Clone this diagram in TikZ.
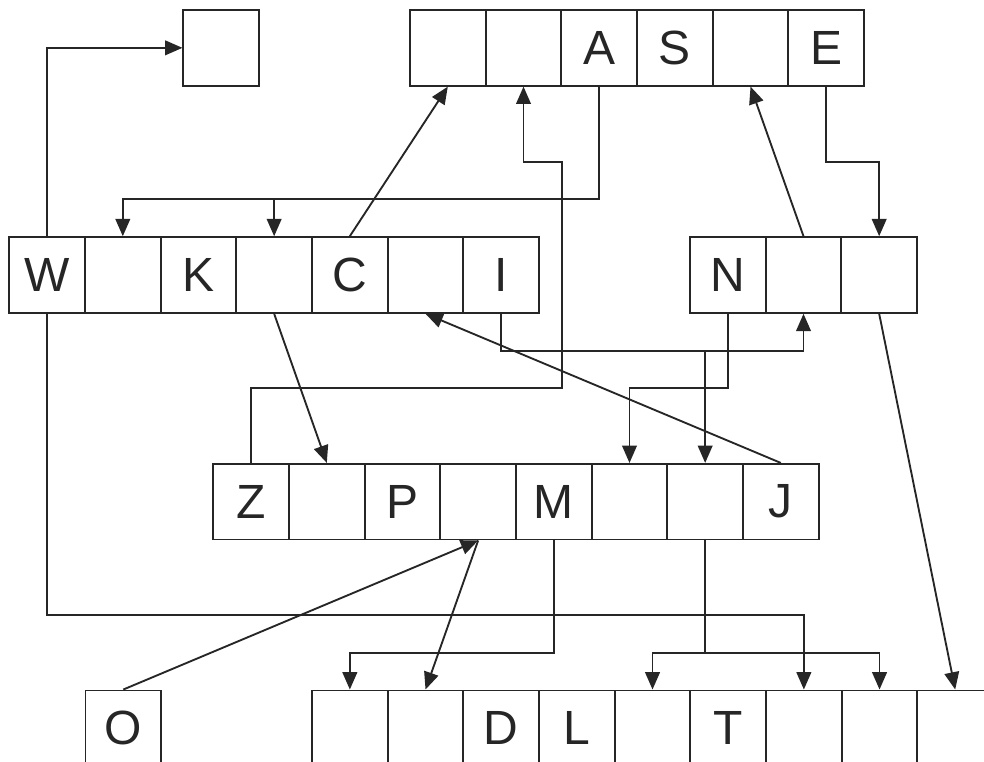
\documentclass[tikz,border=0pt]{standalone}
\usepackage{fontspec}
\setmainfont{Liberation Sans}
\usetikzlibrary{arrows.meta}
\definecolor{ink}{RGB}{38,38,38}
\begin{document}
\begin{tikzpicture}[x=0.75pt,y=-0.75pt,
  line width=1.4pt, draw=ink, text=ink,
  cell/.style={draw, rectangle, inner sep=0pt, minimum width=56.75pt, minimum height=56.75pt,
    font=\fontsize{36}{40}\selectfont},
  arr/.style={-{Triangle[length=13pt,width=11pt]}}]
\useasboundingbox (0,0) rectangle (984,762);
\clip (0,0) rectangle (984,762);
% nodes
\node[cell] (tb) at (221.2,47.85) {};
\foreach \t [count=\i] in {{},{},A,S,{},E}
  \node[cell] (a\i) at ({410+75.67*(\i-0.5)},47.85) {\t};
\foreach \t [count=\i] in {W,{},K,{},C,{},I}
  \node[cell] (b\i) at ({9.3+75.67*(\i-0.5)},275) {\t};
\foreach \t [count=\i] in {N,{},{}}
  \node[cell] (c\i) at ({690+75.67*(\i-0.5)},275) {\t};
\foreach \t [count=\i] in {Z,{},P,{},M,{},{},J}
  \node[cell] (d\i) at ({213.3+75.67*(\i-0.5)},501.7) {\t};
\node[cell] (o) at (123.3,728.3) {O};
\foreach \t [count=\i] in {{},{},D,L,{},T,{},{},{}}
  \node[cell] (e\i) at ({312+75.67*(\i-0.5)},728.3) {\t};
% helper levels
\coordinate (yA) at (0,199.3);
\coordinate (yB) at (0,161.7);
\coordinate (yC) at (0,350.7);
\coordinate (yD) at (0,388.3);
\coordinate (yE) at (0,615);
\coordinate (yF) at (0,652.7);
\coordinate (xZ) at (561.7,0);
% connectors
\draw[arr] (b1.north) |- (tb.west);
\draw[arr] (a3.south) |- (b2.north |- yA) -- (b2.north);
\draw[arr] (b4.north |- yA) -- (b4.north);
\draw[arr] (b5.north) -- (a1.south);
\draw[arr] (d1.north) |- (xZ |- yD) |- (a2.south |- yB) -- (a2.south);
\draw[arr] (c2.north) -- (a5.south);
\draw[arr] (a6.south) |- (c3.north |- yB) -- (c3.north);
\draw[arr] (b4.south) -- (d2.north);
\draw[arr] (d8.north) -- (b6.south);
\draw[arr] (b7.south) |- (c2.south |- yC) -- (c2.south);
\draw[arr] (d7.north |- yC) -- (d7.north);
\draw[arr] (c1.south) |- (d6.north |- yD) -- (d6.north);
\draw[arr] (o.north) -- (d4.south);
\draw[arr] (d4.south) -- (e2.north);
\draw[arr] (d5.south) |- (e1.north |- yF) -- (e1.north);
\draw[arr] (d7.south) |- (e5.north |- yF) -- (e5.north);
\draw[arr] (d7.south |- yF) -| (e8.north);
\draw[arr] (b1.south) |- (e7.north |- yE) -- (e7.north);
\draw[arr] (c3.south) -- (e9.north);
\end{tikzpicture}
\end{document}
